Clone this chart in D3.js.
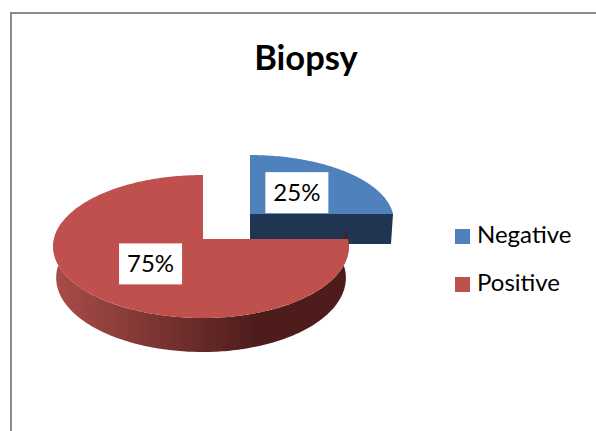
<!DOCTYPE html>
<html>
<head>
<meta charset="utf-8">
<script src="https://cdn.jsdelivr.net/npm/d3@7"></script>
<style>
  html, body { margin: 0; padding: 0; background: #fff; }
  svg { display: block; }
  text { font-family: Lato, "Open Sans", sans-serif; fill: #000; }
</style>
</head>
<body>
<div id="canvas"></div>
<script>
/* Chart data */
const CATEGORIES = ["Negative", "Positive"]
const VALUES = [25, 75]
const TITLE = "Biopsy"

/* Global constants */
const WIDTH = 596
const HEIGHT = 431
const COLORS = {"Negative": "#4f81bd", "Positive": "#bf504d"}
const FRAME = {"X": 11, "Y": 13, "COLOR": "#8c8c8c", "WIDTH": 2}
const LABEL_BOX = {"WIDTH": 63, "HEIGHT": 41, "RADIUS": 0.48}
const LEGEND = {"X": 455, "Y": 229, "STEP": 48, "SWATCH": 15, "GAP": 7}
const STEP_ANGLE = Math.PI / 180

// each slice is pulled out on its own, so each one gets its own scales
const GEOMETRY = {
  "Negative": {"apexX": 250, "left": 143, "right": 143, "top": 155, "apexY": 214, "bottom": 287, "depth": 30, "shrink": 0.986},
  "Positive": {"apexX": 203, "left": 149, "right": 145, "top": 175, "apexY": 239, "bottom": 318, "depth": 31, "shrink": 0.98}
}

/* Helper functions */
// perspective tilt: the far half of the disc is flattened compared to the near half
const TILT = -0.1049
const foreshorten = (v) => v / (TILT * v + 1)
const FAR = foreshorten(-1)
const NEAR = foreshorten(1)

const makeProjection = (g) => {
  const x = d3.scaleLinear().domain([-1, 0, 1]).range([g.apexX - g.left, g.apexX, g.apexX + g.right])
  const y = d3.scaleLinear().domain([FAR, 0, NEAR]).range([g.top, g.apexY, g.bottom])
  return {
    "top": (a, r) => {
      const u = r * Math.sin(a), v = -r * Math.cos(a)
      return [x(u / (TILT * v + 1)), y(foreshorten(v))]
    },
    "bottom": (a, r) => {
      const u = r * Math.sin(a), v = -r * Math.cos(a)
      const f = foreshorten(v)
      const X = g.apexX + (x(u / (TILT * v + 1)) - g.apexX) * g.shrink
      return [X, y(f) + g.depth + (f > 0 ? 3 * f / NEAR : 0)]
    }
  }
}
const angles = (start, end) => d3.range(start, end, STEP_ANGLE).concat([end])
const line = d3.line()

/* SVG definitions */
const svg = d3.select("#canvas")
              .append("svg")
              .attr("width", WIDTH)
              .attr("height", HEIGHT)

const gradient = svg.append("defs")
                    .append("linearGradient")
                    .attr("id", "positive-side")
                    .attr("gradientUnits", "userSpaceOnUse")
                    .attr("x1", 57).attr("x2", 255).attr("y1", 0).attr("y2", 0)
gradient.append("stop").attr("offset", "0%").attr("stop-color", "#a84c49")
gradient.append("stop").attr("offset", "100%").attr("stop-color", "#4e1d1b")

/* frame, open on the right and at the bottom */
svg.append("path")
   .attr("d", line([[FRAME.X, HEIGHT], [FRAME.X, FRAME.Y], [WIDTH, FRAME.Y]]))
   .attr("fill", "none")
   .attr("stroke", FRAME.COLOR)
   .attr("stroke-width", FRAME.WIDTH)

svg.append("text")
   .attr("x", 306)
   .attr("y", 70)
   .attr("text-anchor", "middle")
   .attr("font-size", 34.5)
   .attr("font-weight", 700)
   .text(TITLE)

/* pie */
const slices = d3.pie().sort(null).value((d) => d.value)(CATEGORIES.map((name, i) => ({"name": name, "value": VALUES[i]})))

const pieGroup = svg.append("g")
slices.forEach((slice) => {
  const name = slice.data.name
  const g = GEOMETRY[name]
  const proj = makeProjection(g)
  if (name === "Negative") {
    // cut face along the front of the pulled out slice
    const a = slice.endAngle
    pieGroup.append("path")
            .attr("d", line([proj.top(a, 0), proj.top(a, 1), proj.bottom(a, 1), proj.bottom(a, 0)]) + "Z")
            .attr("fill", "#1f3551")
  } else {
    // outer wall, only the part facing the viewer
    const wall = angles(slice.startAngle - 0.12, Math.PI * 1.58)
    pieGroup.append("path")
            .attr("d", line(wall.map((a) => proj.top(a, 1)).concat(wall.slice().reverse().map((a) => proj.bottom(a, 1)))) + "Z")
            .attr("fill", "url(#positive-side)")
  }
  const rim = angles(slice.startAngle, slice.endAngle).map((a) => proj.top(a, 1))
  pieGroup.append("path")
          .attr("d", line([proj.top(slice.startAngle, 0)].concat(rim)) + "Z")
          .attr("fill", COLORS[name])
})

/* data labels on white boxes */
slices.forEach((slice) => {
  const name = slice.data.name
  const proj = makeProjection(GEOMETRY[name])
  const c = proj.top((slice.startAngle + slice.endAngle) / 2, LABEL_BOX.RADIUS)
  svg.append("rect")
     .attr("x", c[0] - LABEL_BOX.WIDTH / 2)
     .attr("y", c[1] - LABEL_BOX.HEIGHT / 2)
     .attr("width", LABEL_BOX.WIDTH)
     .attr("height", LABEL_BOX.HEIGHT)
     .attr("fill", "#fff")
  svg.append("text")
     .attr("x", c[0])
     .attr("y", c[1] + 8.5)
     .attr("text-anchor", "middle")
     .attr("font-size", 24)
     .text(slice.data.value + "%")
})

/* legend */
const legend = svg.append("g")
                  .selectAll("g")
                  .data(CATEGORIES)
                  .enter()
                  .append("g")
                  .attr("transform", (d, i) => "translate(" + LEGEND.X + ", " + (LEGEND.Y + i * LEGEND.STEP) + ")")
legend.append("rect")
      .attr("width", LEGEND.SWATCH)
      .attr("height", LEGEND.SWATCH)
      .attr("fill", (d) => COLORS[d])
legend.append("text")
      .attr("x", LEGEND.SWATCH + LEGEND.GAP)
      .attr("y", LEGEND.SWATCH - 1)
      .attr("font-size", 24)
      .text((d) => d)
</script>
</body>
</html>
